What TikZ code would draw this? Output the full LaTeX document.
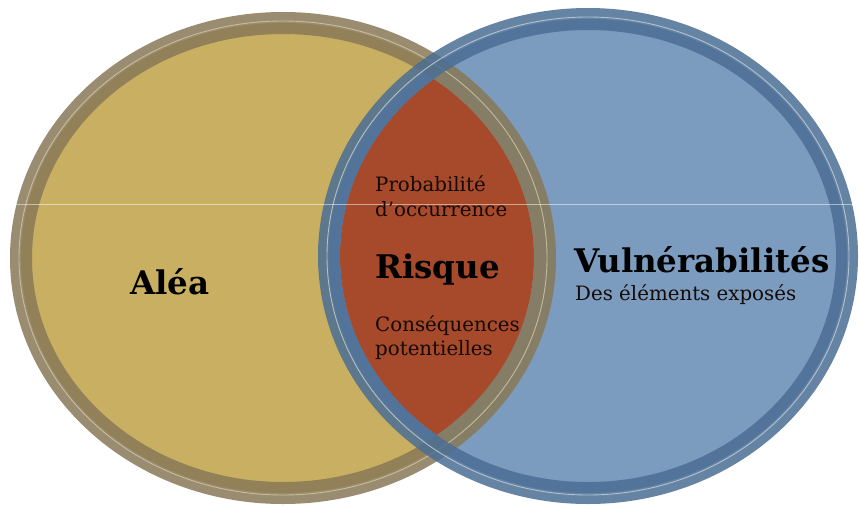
\documentclass[tikz,border=0pt]{standalone}
\usepackage{fontspec}
\setmainfont{DejaVu Serif}
\definecolor{yel}{HTML}{C8AF62}
\definecolor{yelring}{HTML}{887857}
\definecolor{blu}{HTML}{7B9CBE}
\definecolor{bluring}{HTML}{4B6E94}
\definecolor{lens}{HTML}{A64A2B}
\definecolor{ink}{HTML}{150A05}
\begin{document}
\begin{tikzpicture}[x=1pt,y=-1pt,
  big/.style={font=\fontsize{32.5}{36}\selectfont\bfseries, text=black, inner sep=0pt, anchor=base west},
  small/.style={font=\fontsize{19.8}{26}\selectfont, text=ink, inner sep=0pt, anchor=base west}]
\useasboundingbox (0,0) rectangle (859,506);
\fill[white] (0,0) rectangle (859,506);
% centres
\coordinate (L) at (283,258);
\coordinate (R) at (588,256);
% fills
\fill[yel] (L) circle[x radius=262pt, y radius=235pt];
\fill[blu] (R) circle[x radius=259pt, y radius=237pt];
\begin{scope}
  \clip (L) circle[x radius=251pt, y radius=224pt];
  \fill[lens] (R) circle[x radius=248pt, y radius=226pt];
\end{scope}
% rings
\draw[yelring, line width=22pt, opacity=0.85] (L) circle[x radius=262pt, y radius=235pt];
\draw[yelring!30!yel!60!white, line width=0.9pt, opacity=0.85] (L) circle[x radius=264pt, y radius=237pt];
\draw[bluring, line width=22pt, opacity=0.85] (R) circle[x radius=259pt, y radius=237pt];
\draw[bluring!35!white, line width=0.9pt, opacity=0.85] (R) circle[x radius=261pt, y radius=239pt];
% faint scan line
\draw[white, line width=0.6pt, opacity=0.5] (10,204) -- (859,204);
% texts
\node[big] (alea) at (130,294) {Aléa};
\node[big] (risque) at (375,278) {Risque};
\node[big] (vuln) at (574,272) {Vulnérabilités};
\node[small] (expo) at (575,300) {Des éléments exposés};
\node[small] (proba) at (375,191) {Probabilité};
\node[small] (occ) at (375,216) {d’occurrence};
\node[small] (cons) at (375,331) {Conséquences};
\node[small] (pot) at (375,355) {potentielles};
\end{tikzpicture}
\end{document}
